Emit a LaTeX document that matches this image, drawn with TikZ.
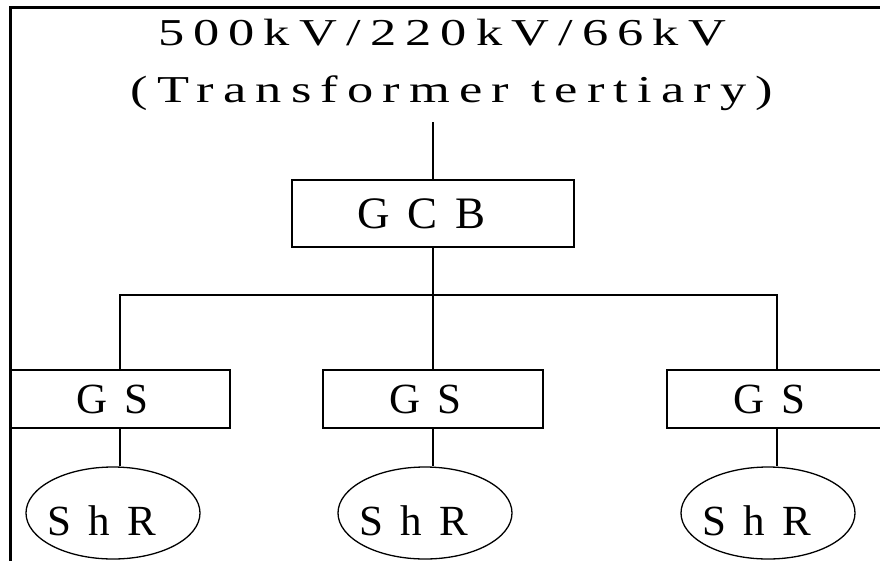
\documentclass[tikz,border=0pt]{standalone}
\usepackage{fontspec}
\setmainfont{Liberation Serif}
\newfontfamily\titlefont[LetterSpace=24,FakeStretch=1.38]{Liberation Serif}
\newfontfamily\labelfont[LetterSpace=40]{Liberation Serif}
\usetikzlibrary{shapes.geometric}

\begin{document}
\begin{tikzpicture}[x=1pt, y=-1pt,
    wire/.style={line width=1.6pt},
    tail/.style={execute at end node={\hspace*{#1}}},
    titletext/.style={font=\titlefont\fontsize{38}{38}\selectfont},
    box/.style={draw, line width=1.6pt, minimum width=220pt, minimum height=58pt,
        inner sep=0pt, tail=15pt, font=\labelfont\fontsize{43}{43}\selectfont},
    reactor/.style={draw, ellipse, line width=1.3pt, minimum width=174pt, minimum height=92pt,
        inner xsep=-14pt, inner ysep=0pt, text height=45pt, text depth=0pt, tail=23pt,
        font=\labelfont\fontsize{43}{43}\selectfont}]

    \useasboundingbox (0,0) rectangle (880,560);
    \clip (0,0) rectangle (880,560);
    \draw[line width=3pt] (10,7) rectangle (900,580);

    % supply side
    \node[titletext, anchor=base] (title) at (442,45) {500kV/220kV/66kV};
    \node[titletext, anchor=base, inner sep=12pt] (subtitle) at (452,102) {(Transformer tertiary)};

    \node[box, minimum width=282pt, minimum height=67pt, tail=8pt,
        font=\labelfont\fontsize{45}{45}\selectfont] (gcb) at (433,213.5) {GCB};

    \node[box] (gs1) at (120,399) {GS};
    \node[box] (gs2) at (433,399) {GS};
    \node[box] (gs3) at (777,399) {GS};

    \node[reactor] (shr1) at (113,513) {ShR};
    \node[reactor] (shr2) at (425,513) {ShR};
    \node[reactor] (shr3) at (768,513) {ShR};

    \coordinate (bus) at (433,295);

    \draw[wire] (gcb.north) -- (gcb.north |- subtitle.south);
    \draw[wire] (gcb.south) -- (gs2.north);
    \draw[wire] (gs1.north) |- (bus) -| (gs3.north);
    \foreach \i in {1,2,3}
        \draw[wire] (gs\i.south) -- (gs\i.south |- shr\i.north);

\end{tikzpicture}
\end{document}
